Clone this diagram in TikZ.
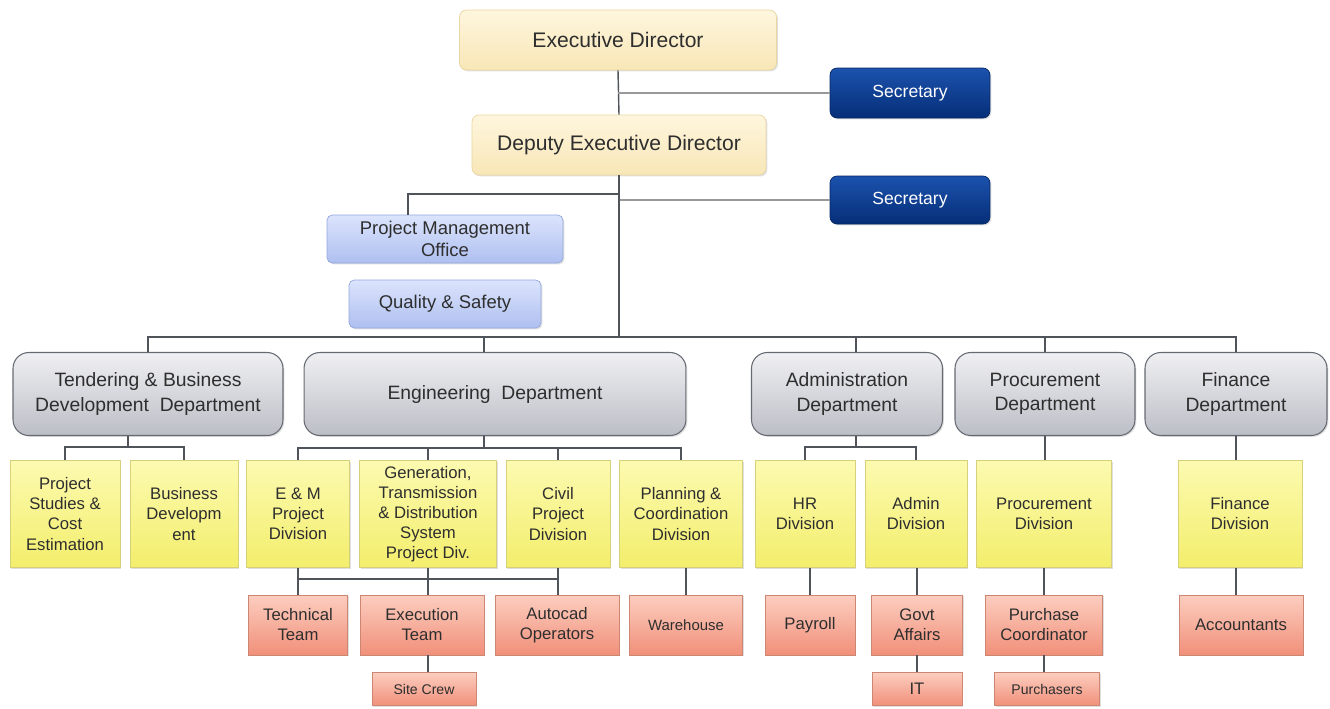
\documentclass[tikz,border=0pt]{standalone}
\usepackage{fontspec}
\setmainfont{Liberation Sans}
\usetikzlibrary{shadows}

\definecolor{creamtop}{HTML}{FEF6DE}
\definecolor{creambot}{HTML}{F8E6B6}
\definecolor{creamline}{HTML}{EAD6A2}
\definecolor{navytop}{HTML}{1B52AD}
\definecolor{navybot}{HTML}{062E78}
\definecolor{navyline}{HTML}{052664}
\definecolor{lavtop}{HTML}{DCE4FC}
\definecolor{lavbot}{HTML}{AEBFF0}
\definecolor{lavline}{HTML}{93A8DE}
\definecolor{greytop}{HTML}{F0F0F3}
\definecolor{greybot}{HTML}{BCBEC6}
\definecolor{greyline}{HTML}{666A72}
\definecolor{yeltop}{HTML}{FCFAB0}
\definecolor{yelbot}{HTML}{F3EE6C}
\definecolor{yelline}{HTML}{D6D07A}
\definecolor{saltop}{HTML}{FCCDBF}
\definecolor{salbot}{HTML}{F1907A}
\definecolor{salline}{HTML}{CC8672}
\definecolor{linegrey}{HTML}{4F535A}
\definecolor{txtgrey}{HTML}{2E2E2E}

\begin{document}
\begin{tikzpicture}[x=0.02cm, y=-0.02cm]
\tikzset{
  box/.style={draw, align=center, inner sep=1pt, text=txtgrey,
    drop shadow={opacity=0.25, shadow xshift=0.8pt, shadow yshift=-0.8pt}},
  topbox/.style={box, rounded corners=4pt, draw=creamline, top color=creamtop,
    bottom color=creambot, font=\fontsize{12}{15}\selectfont},
  secbox/.style={box, rounded corners=4pt, draw=navyline, top color=navytop,
    bottom color=navybot, text=white, font=\fontsize{10}{12}\selectfont,
    minimum width=3.2cm},
  pmobox/.style={box, rounded corners=3pt, draw=lavline, top color=lavtop,
    bottom color=lavbot, font=\fontsize{10.5}{12.5}\selectfont, minimum height=0.96cm},
  deptbox/.style={box, rounded corners=9pt, draw=greyline, line width=0.6pt,
    top color=greytop, bottom color=greybot, font=\fontsize{11}{14}\selectfont,
    minimum height=1.66cm},
  divbox/.style={box, draw=yelline, top color=yeltop, bottom color=yelbot,
    font=\fontsize{9.5}{11.4}\selectfont, minimum height=2.14cm},
  teambox/.style={box, draw=salline, top color=saltop, bottom color=salbot,
    font=\fontsize{9.5}{11.4}\selectfont, minimum height=1.2cm},
  crewbox/.style={box, draw=salline, top color=saltop, bottom color=salbot,
    font=\fontsize{8}{9.6}\selectfont, minimum height=0.66cm},
  link/.style={draw=linegrey, line width=0.8pt},
  seclink/.style={draw=gray!80, line width=1.4pt}
}
\useasboundingbox (0,0) rectangle (1330,708);

% top of the chart
\node[topbox, minimum width=6.34cm, minimum height=1.2cm] (ED) at (618,40) {Executive Director};
\node[topbox, minimum width=5.88cm, minimum height=1.2cm] (DED) at (619,145) {Deputy Executive Director};
\node[secbox, minimum height=1.0cm] (Sec1) at (910,93) {Secretary};
\node[secbox, minimum height=0.96cm] (Sec2) at (910,200) {Secretary};
\node[pmobox, minimum width=4.72cm] (PMO) at (445,239) {Project Management\\Office};
\node[pmobox, minimum width=3.84cm] (QS) at (445,304) {Quality \& Safety};

% departments
\node[deptbox, minimum width=5.4cm] (Tend) at (148,394) {Tendering \& Business\\Development\ \ Department};
\node[deptbox, minimum width=7.64cm] (Eng) at (495,394) {Engineering\ \ Department};
\node[deptbox, minimum width=3.82cm] (Adm) at (847,394) {Administration\\Department};
\node[deptbox, minimum width=3.6cm] (Proc) at (1045,394) {Procurement\\Department};
\node[deptbox, minimum width=3.64cm] (Fin) at (1236,394) {Finance\\Department};

% divisions
\node[divbox, minimum width=2.2cm] (PS) at (65,514) {Project\\Studies \&\\Cost\\Estimation};
\node[divbox, minimum width=2.16cm] (BD) at (184,514) {Business\\Developm\\ent};
\node[divbox, minimum width=2.06cm] (EM) at (298,514) {E \& M\\Project\\Division};
\node[divbox, minimum width=2.74cm] (GT) at (428,514) {Generation,\\Transmission\\\& Distribution\\System\\Project Div.};
\node[divbox, minimum width=2.08cm] (Civ) at (558,514) {Civil\\Project\\Division};
\node[divbox, minimum width=2.46cm] (Plan) at (681,514) {Planning \&\\Coordination\\Division};
\node[divbox, minimum width=2.0cm] (HR) at (805,514) {HR\\Division};
\node[divbox, minimum width=2.04cm] (AdmDiv) at (916,514) {Admin\\Division};
\node[divbox, minimum width=2.7cm] (ProcDiv) at (1044,514) {Procurement\\Division};
\node[divbox, minimum width=2.48cm] (FinDiv) at (1240,514) {Finance\\Division};

% teams
\node[teambox, minimum width=1.98cm] (Tech) at (298,625) {Technical\\Team};
\node[teambox, minimum width=2.48cm] (Exec) at (422,625) {Execution\\Team};
\node[teambox, minimum width=2.48cm] (Cad) at (557,625) {Autocad\\Operators};
\node[teambox, minimum width=2.26cm, font=\fontsize{8.5}{10}\selectfont] (Ware) at (686,625) {Warehouse};
\node[teambox, minimum width=1.8cm] (Pay) at (810,625) {Payroll};
\node[teambox, minimum width=1.82cm] (Govt) at (917,625) {Govt\\Affairs};
\node[teambox, minimum width=2.34cm] (PCo) at (1044,625) {Purchase\\Coordinator};
\node[teambox, minimum width=2.48cm] (Acc) at (1241,625) {Accountants};
\node[crewbox, minimum width=2.08cm] (Crew) at (424,689) {Site Crew};
\node[crewbox, minimum width=1.8cm, font=\fontsize{9.5}{11}\selectfont] (IT) at (917,689) {IT};
\node[crewbox, minimum width=2.1cm] (Purch) at (1047,689) {Purchasers};

% helper points for the buses
\coordinate (deptbus) at (619,337);
\coordinate (pmobus) at (619,194);
\coordinate (pmotop) at (408,215);
\coordinate (engtop) at (484,436);
\coordinate (admtop) at (856,436);
\coordinate (tendtop) at (128,436);
\coordinate (teambus) at (298,579);

% connectors
\draw[link] (ED.south) -- (DED.north);
\draw[seclink] (ED.south |- Sec1.west) -- (Sec1.west);
\draw[seclink] (DED.south |- Sec2.west) -- (Sec2.west);
\draw[link] (DED.south) -- (deptbus);
\draw[link] (pmobus) -| (pmotop);
\draw[link] (Tend.north) |- (deptbus) -| (Fin.north);
\draw[link] (Eng.north -| engtop) -- (engtop |- deptbus);
\draw[link] (Adm.north -| admtop) -- (admtop |- deptbus);
\draw[link] (Proc.north) -- (Proc.north |- deptbus);

\draw[link] (tendtop) -- ++(0,11);
\draw[link] (PS.north) |- (tendtop |- 0,447) -| (BD.north);
\draw[link] (engtop) -- ++(0,12);
\draw[link] (EM.north) |- (engtop |- 0,448) -| (Plan.north);
\draw[link] (GT.north) -- (GT.north |- 0,448);
\draw[link] (Civ.north) -- (Civ.north |- 0,448);
\draw[link] (admtop) -- ++(0,11);
\draw[link] (HR.north) |- (admtop |- 0,447) -| (AdmDiv.north);
\draw[link] (Proc.south) -- (ProcDiv.north -| Proc.south);
\draw[link] (Fin.south) -- (FinDiv.north -| Fin.south);

\draw[link] (EM.south) -- (Tech.north);
\draw[link] (GT.south) -- (GT.south |- Exec.north);
\draw[link] (Civ.south) -- (Civ.south |- Cad.north);
\draw[link] (teambus) -- (teambus -| Civ.south);
\draw[link] (Ware.north) -- (Ware.north |- Plan.south);
\draw[link] (Pay.north) -- (Pay.north |- HR.south);
\draw[link] (Govt.north) -- (Govt.north |- AdmDiv.south);
\draw[link] (PCo.north) -- (PCo.north |- ProcDiv.south);
\draw[link] (Acc.north -| Fin.south) -- (FinDiv.south -| Fin.south);
\draw[link] (Exec.south -| GT.south) -- (Crew.north -| GT.south);
\draw[link] (Govt.south) -- (IT.north);
\draw[link] (PCo.south) -- (Purch.north -| PCo.south);
\end{tikzpicture}
\end{document}
